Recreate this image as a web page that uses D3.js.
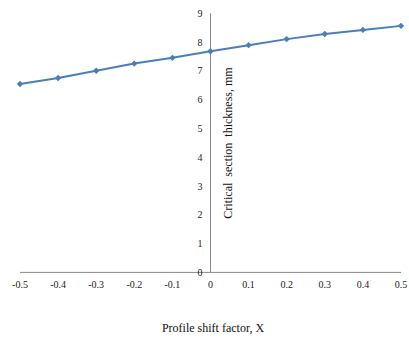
<!DOCTYPE html>
<html>
<head>
<meta charset="utf-8">
<script src="https://cdn.jsdelivr.net/npm/d3@7"></script>
<style>
  body { margin: 0; background: #fff; }
  svg { display: block; font-family: "Liberation Serif", "DejaVu Serif", serif; }
  .tick-label { font-size: 10px; fill: #222; }
  .axis-title { font-size: 12px; fill: #111; }
</style>
</head>
<body>
<svg id="chart" width="409" height="338"></svg>
<script>
const shiftFactors = [-0.5, -0.4, -0.3, -0.2, -0.1, 0, 0.1, 0.2, 0.3, 0.4, 0.5];
const thickness = [6.54, 6.75, 7.0, 7.25, 7.45, 7.68, 7.89, 8.1, 8.28, 8.42, 8.56];
const xTicks = [-0.5, -0.4, -0.3, -0.2, -0.1, 0, 0.1, 0.2, 0.3, 0.4, 0.5];
const yTicks = [0, 1, 2, 3, 4, 5, 6, 7, 8, 9];

const svg = d3.select("#chart");
const x = d3.scaleLinear().domain([-0.5, 0.5]).range([20, 401]);
const y = d3.scaleLinear().domain([0, 9]).range([272.4, 13.2]);
const lineColor = "#4a7ebb";

// axes lines
svg.append("line")
  .attr("x1", x(-0.5)).attr("x2", x(0.5))
  .attr("y1", y(0)).attr("y2", y(0))
  .attr("stroke", "#888").attr("stroke-width", 1);
svg.append("line")
  .attr("x1", x(0)).attr("x2", x(0))
  .attr("y1", y(0)).attr("y2", y(9))
  .attr("stroke", "#888").attr("stroke-width", 1);

// y tick labels
svg.selectAll(".ylab").data(yTicks).join("text")
  .attr("class", "tick-label")
  .attr("x", x(0) - 8)
  .attr("y", (d) => y(d) + 3.5)
  .attr("text-anchor", "end")
  .text((d) => d);

// x tick labels
svg.selectAll(".xlab").data(xTicks).join("text")
  .attr("class", "tick-label")
  .attr("x", (d) => x(d))
  .attr("y", 288)
  .attr("text-anchor", "middle")
  .text((d) => d);

// series
const pts = shiftFactors.map((d, i) => [d, thickness[i]]);
svg.append("path")
  .datum(pts)
  .attr("fill", "none")
  .attr("stroke", lineColor)
  .attr("stroke-width", 2)
  .attr("d", d3.line().x((d) => x(d[0])).y((d) => y(d[1])));

const diamond = d3.symbol().type(d3.symbolDiamond2).size(26);
svg.selectAll(".pt").data(pts).join("path")
  .attr("transform", (d) => `translate(${x(d[0])},${y(d[1])})`)
  .attr("d", diamond)
  .attr("fill", lineColor);

// titles
svg.append("text")
  .attr("class", "axis-title")
  .attr("x", 213).attr("y", 332)
  .attr("text-anchor", "middle")
  .text("Profile shift factor, X");

svg.append("text")
  .attr("class", "axis-title")
  .attr("transform", "translate(232,143) rotate(-90)")
  .attr("text-anchor", "middle")
  .attr("xml:space", "preserve")
  .style("white-space", "pre")
  .text("Critical  section  thickness, mm");
</script>
</body>
</html>
